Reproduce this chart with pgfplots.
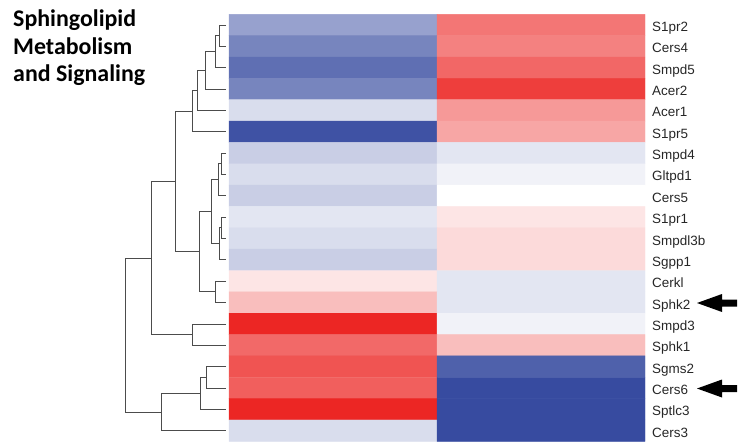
\documentclass[border=0pt]{standalone}
\usepackage{fontspec}
\setmainfont{Liberation Sans}
\newfontfamily\titlefont{Carlito}
\usepackage{pgfplots}
\pgfplotsset{compat=1.18}
\begin{document}
\begin{tikzpicture}
\path[use as bounding box] (0,0) rectangle (738bp,442bp);
\begin{axis}[at={(0,0)}, anchor=south west, scale only axis,
  width=738bp, height=442bp, xmin=0, xmax=738, ymin=0, ymax=442,
  y dir=reverse, axis lines=none, clip=false,
  colormap={bwr}{rgb255=(55,75,160) rgb255=(255,255,255) rgb255=(236,38,36)},
  point meta min=-1, point meta max=1,
  dend/.style={color=black!70, line width=0.8bp, mark=none}]
% heatmap: columns at x=333 and 541, rows 21.35 px apart
\addplot[matrix plot*, mesh/cols=2, point meta=explicit] table[meta=v] {
x y v
333 25.00 -0.52
541 25.00 0.63
333 46.35 -0.68
541 46.35 0.58
333 67.70 -0.80
541 67.70 0.70
333 89.05 -0.68
541 89.05 0.89
333 110.40 -0.19
541 110.40 0.47
333 131.75 -0.96
541 131.75 0.41
333 153.10 -0.27
541 153.10 -0.14
333 174.45 -0.19
541 174.45 -0.07
333 195.80 -0.27
541 195.80 0.00
333 217.15 -0.14
541 217.15 0.12
333 238.50 -0.19
541 238.50 0.17
333 259.85 -0.27
541 259.85 0.17
333 281.20 0.12
541 281.20 -0.14
333 302.55 0.30
541 302.55 -0.14
333 323.90 1.00
541 323.90 -0.07
333 345.25 0.69
541 345.25 0.30
333 366.60 0.79
541 366.60 -0.88
333 387.95 0.74
541 387.95 -1.00
333 409.30 1.00
541 409.30 -1.00
333 430.65 -0.19
541 430.65 -1.00
};
% dendrogram
\addplot[dend] coordinates {(226,25) (219.3,25) (219.3,46.35) (226,46.35)};
\addplot[dend] coordinates {(219.3,35.68) (215.7,35.68) (215.7,67.7) (226,67.7)};
\addplot[dend] coordinates {(215.7,51.69) (205,51.69) (205,89.05) (226,89.05)};
\addplot[dend] coordinates {(205,70.37) (197.3,70.37) (197.3,110.4) (226,110.4)};
\addplot[dend] coordinates {(197.3,90.38) (192.3,90.38) (192.3,131.75) (226,131.75)};
\addplot[dend] coordinates {(226,153.1) (221,153.1) (221,174.45) (226,174.45)};
\addplot[dend] coordinates {(221,163.78) (218.3,163.78) (218.3,195.8) (226,195.8)};
\addplot[dend] coordinates {(226,217.15) (221.5,217.15) (221.5,238.5) (226,238.5)};
\addplot[dend] coordinates {(221.5,227.83) (219,227.83) (219,259.85) (226,259.85)};
\addplot[dend] coordinates {(218.3,179.79) (211,179.79) (211,243.84) (219,243.84)};
\addplot[dend] coordinates {(226,281.2) (215.7,281.2) (215.7,302.55) (226,302.55)};
\addplot[dend] coordinates {(211,211.81) (199,211.81) (199,291.88) (215.7,291.88)};
\addplot[dend] coordinates {(192.3,111.07) (175,111.07) (175,251.84) (199,251.84)};
\addplot[dend] coordinates {(226,323.9) (192.3,323.9) (192.3,345.25) (226,345.25)};
\addplot[dend] coordinates {(175,181.46) (151.7,181.46) (151.7,334.58) (192.3,334.58)};
\addplot[dend] coordinates {(226,366.6) (206,366.6) (206,387.95) (226,387.95)};
\addplot[dend] coordinates {(206,377.28) (200.3,377.28) (200.3,409.3) (226,409.3)};
\addplot[dend] coordinates {(200.3,393.29) (161,393.29) (161,430.65) (226,430.65)};
\addplot[dend] coordinates {(151.7,258.02) (125.7,258.02) (125.7,411.97) (161,411.97)};
% row labels
\foreach \lab [count=\i from 0] in {S1pr2,Cers4,Smpd5,Acer2,Acer1,S1pr5,Smpd4,Gltpd1,Cers5,S1pr1,Smpdl3b,Sgpp1,Cerkl,Sphk2,Smpd3,Sphk1,Sgms2,Cers6,Sptlc3,Cers3}{
  \edef\temp{\noexpand\node[anchor=base west, inner sep=0pt, font=\noexpand\fontsize{13.5}{15}\noexpand\selectfont, text=black!85] at (axis cs:652,{31.5+21.35*\i}) {\lab};}
  \temp
}
% arrows
\fill[black] (axis cs:697,303) -- (axis cs:722,294) -- (axis cs:722,299.5) -- (axis cs:737,299.5) -- (axis cs:737,306.5) -- (axis cs:722,306.5) -- (axis cs:722,312) -- cycle;
\fill[black] (axis cs:697,388.5) -- (axis cs:722,379.5) -- (axis cs:722,385) -- (axis cs:737,385) -- (axis cs:737,392) -- (axis cs:722,392) -- (axis cs:722,397.5) -- cycle;
% title
\node[anchor=base west, inner sep=0pt, font=\titlefont\bfseries\fontsize{24}{28}\selectfont] at (axis cs:13,26.7) {Sphingolipid};
\node[anchor=base west, inner sep=0pt, font=\titlefont\bfseries\fontsize{24}{28}\selectfont] at (axis cs:13,54.3) {Metabolism};
\node[anchor=base west, inner sep=0pt, font=\titlefont\bfseries\fontsize{24}{28}\selectfont] at (axis cs:13,81.7) {and Signaling};
\end{axis}
\end{tikzpicture}
\end{document}
